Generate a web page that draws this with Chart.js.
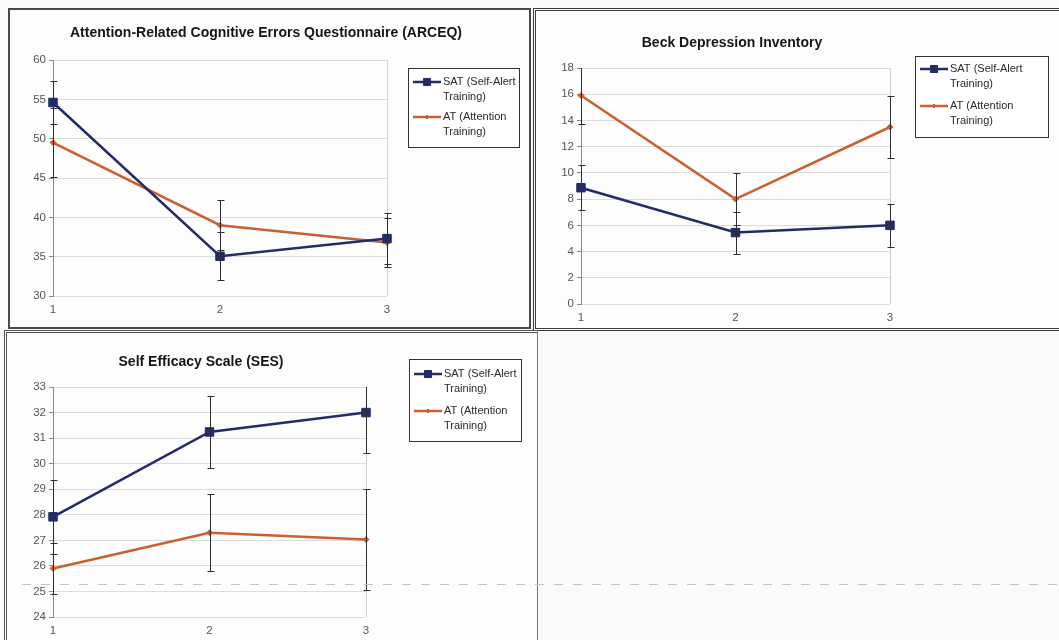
<!DOCTYPE html>
<html>
<head>
<meta charset="utf-8">
<script src="https://cdn.jsdelivr.net/npm/chart.js@4.4.0/dist/chart.umd.min.js"></script>
<style>
  body { margin: 0; width: 1059px; height: 640px; background: #fafafa; position: relative; overflow: hidden; }
  .panel { position: absolute; background: #fdfdfd; box-sizing: border-box; }
  #p1 { left: 8px; top: 8px; width: 523px; height: 321px; border: 2px solid #4a4a4a; }
  #p2 { left: 533px; top: 8px; width: 526px; height: 323px; border: 3px double #3a3a3a; border-right: none; }
  #p3 { left: 4px; top: 330px; width: 534px; height: 314px; border: 3px double #555; border-right: 1px solid #777; border-bottom: none; }
  .panel canvas { position: absolute; left: 0; top: 0; }
  .dashes { position: absolute; left: 22px; top: 584px; width: 1037px; height: 1px;
            background: repeating-linear-gradient(90deg, #c4c4c4 0 9px, transparent 9px 19px); }
</style>
</head>
<body>
<div class="panel" id="p1"><canvas id="arceq"></canvas></div>
<div class="panel" id="p2"><canvas id="bdi"></canvas></div>
<div class="panel" id="p3"><canvas id="ses"></canvas></div>
<div class="dashes"></div>
<script>
// assessment points
var timepoints = ['1', '2', '3'];

var satName = ['SAT (Self-Alert', 'Training)'];
var atName = ['AT (Attention', 'Training)'];

// ARCEQ means and error bar half-widths
var arceqSat = [54.6, 35.05, 37.3];
var arceqSatErr = [2.7, 3.05, 3.25];
var arceqAt = [49.5, 39.0, 36.8];
var arceqAtErr = [4.4, 3.15, 3.1];
var arceqTicks = [30, 35, 40, 45, 50, 55, 60];

// Beck Depression Inventory
var bdiSat = [8.87, 5.45, 6.0];
var bdiSatErr = [1.7, 1.6, 1.62];
var bdiAt = [15.9, 8.0, 13.5];
var bdiAtErr = [2.2, 2.0, 2.4];
var bdiTicks = [0, 2, 4, 6, 8, 10, 12, 14, 16, 18];

// Self Efficacy Scale
var sesSat = [27.92, 31.24, 32.0];
var sesSatErr = [1.45, 1.4, 1.6];
var sesAt = [25.9, 27.3, 27.03];
var sesAtErr = [1.0, 1.5, 1.98];
var sesTicks = [24, 25, 26, 27, 28, 29, 30, 31, 32, 33];

var FONT = '"Liberation Sans", Arial, sans-serif';
var SAT_COLOR = '#232c68';
var AT_COLOR = '#c9602e';

// vertical error bars with caps, drawn on top of the lines
var errorBars = {
    id: 'errorBars',
    afterDatasetsDraw: function (chart) {
        var ctx = chart.ctx, area = chart.chartArea, y = chart.scales.y;
        ctx.save();
        ctx.beginPath();
        ctx.rect(area.left - 6, area.top, area.right - area.left + 12, area.bottom - area.top);
        ctx.clip();
        ctx.strokeStyle = '#2e2e2e';
        ctx.lineWidth = 1;
        chart.data.datasets.forEach(function (ds, i) {
            var meta = chart.getDatasetMeta(i);
            ds.errors.forEach(function (e, j) {
                var px = Math.round(meta.data[j].x) + 0.5;
                var top = Math.round(y.getPixelForValue(ds.data[j] + e)) + 0.5;
                var bot = Math.round(y.getPixelForValue(ds.data[j] - e)) + 0.5;
                ctx.beginPath();
                ctx.moveTo(px, top); ctx.lineTo(px, bot);
                ctx.moveTo(px - 3, top); ctx.lineTo(px + 4, top);
                ctx.moveTo(px - 3, bot); ctx.lineTo(px + 4, bot);
                ctx.stroke();
            });
        });
        ctx.restore();
    }
};

var panelTitle = {
    id: 'panelTitle',
    afterDraw: function (chart, args, opts) {
        var ctx = chart.ctx;
        ctx.save();
        ctx.font = 'bold 14px ' + FONT;
        ctx.fillStyle = '#151515';
        ctx.textAlign = 'center';
        ctx.textBaseline = 'middle';
        ctx.fillText(opts.text, opts.x, opts.y);
        ctx.restore();
    }
};

// boxed legend with two-line labels, like the spreadsheet one
var boxLegend = {
    id: 'boxLegend',
    afterDraw: function (chart, args, opts) {
        var ctx = chart.ctx;
        ctx.save();
        ctx.fillStyle = '#ffffff';
        ctx.fillRect(opts.x, opts.y, opts.w, opts.h);
        ctx.strokeStyle = '#333';
        ctx.lineWidth = 1;
        ctx.strokeRect(opts.x + 0.5, opts.y + 0.5, opts.w, opts.h);
        ctx.font = '11px ' + FONT;
        ctx.textAlign = 'left';
        ctx.textBaseline = 'middle';
        chart.data.datasets.forEach(function (ds, i) {
            var ly = opts.y + opts.first + i * opts.itemGap;
            ctx.strokeStyle = ds.borderColor;
            ctx.fillStyle = ds.borderColor;
            ctx.lineWidth = ds.borderWidth;
            ctx.beginPath();
            ctx.moveTo(opts.x + 5, ly);
            ctx.lineTo(opts.x + 33, ly);
            ctx.stroke();
            ctx.lineWidth = 1;
            Chart.helpers.drawPoint(ctx, { pointStyle: ds.pointStyle, radius: ds.pointRadius - 1, borderWidth: 1 }, opts.x + 19, ly);
            ctx.fillStyle = '#2a2a2a';
            ds.lines.forEach(function (t, k) {
                ctx.fillText(t, opts.x + 35, ly + k * opts.lineGap);
            });
        });
        ctx.restore();
    }
};

function series(name, values, errs, color, style, radius) {
    return {
        label: name.join(' '),
        lines: name,
        data: values,
        errors: errs,
        borderColor: color,
        backgroundColor: color,
        borderWidth: 2.5,
        pointStyle: style,
        pointRadius: radius,
        pointBorderWidth: 1,
        pointBackgroundColor: color,
        tension: 0
    };
}

// plot: page coordinates of the plotting rectangle, legend/title in page coordinates too
function buildChart(id, datasets, ticks, plot, title, legend) {
    var canvas = document.getElementById(id);
    var holder = canvas.parentElement;
    canvas.width = holder.clientWidth;
    canvas.height = holder.clientHeight;
    var r = canvas.getBoundingClientRect();
    var yWidth = 30, xHeight = 22;

    return new Chart(canvas.getContext('2d'), {
        type: 'line',
        data: { labels: timepoints, datasets: datasets },
        options: {
            responsive: false,
            animation: false,
            events: [],
            layout: {
                padding: {
                    left: plot.left - r.left - yWidth,
                    right: r.left + r.width - plot.right,
                    top: plot.top - r.top,
                    bottom: r.top + r.height - plot.bottom - xHeight
                }
            },
            scales: {
                x: {
                    type: 'category',
                    offset: false,
                    grid: {
                        color: function (c) { return c.index === timepoints.length - 1 ? '#d2d2d2' : 'rgba(0,0,0,0)'; },
                        drawTicks: false
                    },
                    border: { display: false },
                    ticks: { color: '#555', font: { family: FONT, size: 11.5 }, padding: 7, maxRotation: 0 },
                    afterFit: function (s) { s.height = xHeight; }
                },
                y: {
                    min: ticks[0],
                    max: ticks[ticks.length - 1],
                    afterBuildTicks: function (s) { s.ticks = ticks.map(function (v) { return { value: v }; }); },
                    grid: { color: '#dcdcdc', tickLength: 4, tickColor: '#8a8a8a' },
                    border: { color: '#8a8a8a' },
                    ticks: { color: '#555', font: { family: FONT, size: 11.5 }, padding: 3 },
                    afterFit: function (s) { s.width = yWidth; }
                }
            },
            plugins: {
                legend: { display: false },
                tooltip: { enabled: false },
                panelTitle: { text: title.text, x: title.x - r.left, y: title.y - r.top },
                boxLegend: {
                    x: legend.x - r.left, y: legend.y - r.top, w: legend.w, h: legend.h,
                    first: legend.first, lineGap: 14.5, itemGap: legend.itemGap
                }
            }
        },
        plugins: [errorBars, panelTitle, boxLegend]
    });
}

buildChart('arceq', [
    series(satName, arceqSat, arceqSatErr, SAT_COLOR, 'rect', 6),
    series(atName, arceqAt, arceqAtErr, AT_COLOR, 'rectRot', 3)
], arceqTicks,
    { left: 53, right: 387, top: 60, bottom: 296 },
    { text: 'Attention-Related Cognitive Errors Questionnaire (ARCEQ)', x: 266, y: 33 },
    { x: 408, y: 68, w: 111, h: 79, first: 14, itemGap: 35 });

buildChart('bdi', [
    series(satName, bdiSat, bdiSatErr, SAT_COLOR, 'rect', 6),
    series(atName, bdiAt, bdiAtErr, AT_COLOR, 'rectRot', 3)
], bdiTicks,
    { left: 581, right: 890, top: 68, bottom: 304 },
    { text: 'Beck Depression Inventory', x: 732, y: 43 },
    { x: 915, y: 56, w: 133, h: 81, first: 13, itemGap: 37 });

buildChart('ses', [
    series(satName, sesSat, sesSatErr, SAT_COLOR, 'rect', 6),
    series(atName, sesAt, sesAtErr, AT_COLOR, 'rectRot', 3)
], sesTicks,
    { left: 53, right: 366, top: 387, bottom: 617 },
    { text: 'Self Efficacy Scale (SES)', x: 201, y: 362 },
    { x: 409, y: 359, w: 112, h: 82, first: 15, itemGap: 37 });
</script>
</body>
</html>
